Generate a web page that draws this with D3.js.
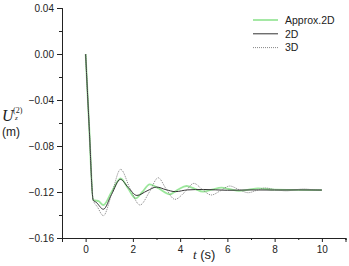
<!DOCTYPE html>
<html>
<head>
<meta charset="utf-8">
<script src="https://cdn.jsdelivr.net/npm/d3@7"></script>
<style>
  body { margin: 0; background: #fff; }
  svg { display: block; font-family: "Liberation Sans", Arial, sans-serif; }
</style>
</head>
<body>
<div id="chart"></div>
<script>
// Données (temps en s, déplacement en m)
const tApprox = [0, 0.15, 0.32, 0.45, 0.55, 0.75, 1.1, 1.48, 1.8, 2.12, 2.4, 2.71, 3.1, 3.56, 3.9, 4.27, 4.6, 4.97, 5.35, 5.75, 6.1, 6.5, 6.9, 7.3, 8, 9, 10];
const uApprox = [0, -0.063, -0.127, -0.1275, -0.128, -0.1313, -0.12, -0.1081, -0.117, -0.1255, -0.12, -0.1133, -0.117, -0.122, -0.118, -0.1148, -0.117, -0.1197, -0.118, -0.1162, -0.1175, -0.119, -0.118, -0.1168, -0.118, -0.1182, -0.1183];

const t2D = [0, 0.15, 0.32, 0.45, 0.75, 1.1, 1.47, 1.8, 2.17, 2.6, 3.0, 3.4, 3.8, 4.3, 5, 6, 7, 8, 9, 10];
const u2D = [0, -0.063, -0.127, -0.129, -0.135, -0.122, -0.109, -0.116, -0.123, -0.119, -0.1157, -0.118, -0.1197, -0.1182, -0.1178, -0.1185, -0.1182, -0.1183, -0.1182, -0.1183];

const t3D = [0, 0.15, 0.32, 0.5, 0.75, 1.1, 1.48, 1.9, 2.3, 2.7, 3.07, 3.4, 3.78, 4.2, 4.58, 4.95, 5.32, 5.7, 6.1, 6.5, 6.88, 7.25, 7.6, 8.05, 8.5, 8.9, 9.25, 9.6, 10];
const u3D = [0, -0.063, -0.127, -0.133, -0.1406, -0.122, -0.1003, -0.118, -0.1313, -0.12, -0.1076, -0.117, -0.1264, -0.12, -0.1125, -0.118, -0.1226, -0.119, -0.1148, -0.118, -0.1206, -0.1185, -0.1165, -0.118, -0.119, -0.118, -0.1174, -0.118, -0.1183];

const xTicks = [0, 2, 4, 6, 8, 10];
const yTicks = [0.04, 0.00, -0.04, -0.08, -0.12, -0.16];
const legendLabels = ["Approx.2D", "2D", "3D"];

const width = 349, height = 266;
const svg = d3.select("#chart").append("svg")
    .attr("width", width)
    .attr("height", height);

// Échelles
const x = d3.scaleLinear().domain([-1, 11]).range([62, 345.5]);
const y = d3.scaleLinear().domain([-0.16, 0.04]).range([238, 8]);

// Axes
const yAxis = svg.append("g")
    .attr("transform", "translate(62,0)")
    .call(d3.axisLeft(y).tickValues(yTicks).tickFormat(d3.format(".2f")).tickSize(5).tickPadding(3));
yAxis.append("g").call(d3.axisLeft(y).tickValues(d3.range(-0.14, 0.04, 0.04)).tickSize(3).tickFormat(""));

const xAxis = svg.append("g")
    .attr("transform", "translate(0,238)")
    .call(d3.axisBottom(x).tickValues(xTicks).tickFormat(d3.format("d")).tickSize(4).tickPadding(4));
xAxis.append("g").call(d3.axisBottom(x).tickValues([1, 3, 5, 7, 9, 11]).tickSize(2).tickFormat(""));

svg.selectAll(".domain").attr("stroke", "#222");
svg.selectAll(".tick line").attr("stroke", "#222");
svg.selectAll(".tick text").attr("fill", "#222").style("font-size", "10px").style("font-family", "Liberation Sans, Arial, sans-serif");
// retirer le chemin doublé des sous-axes
yAxis.select("g").select(".domain").remove();
xAxis.select("g").select(".domain").remove();

// Titres des axes
const yl = svg.append("text").attr("x", 2).attr("y", 121)
    .style("font-family", "Liberation Serif, Times New Roman, serif").attr("fill", "#222");
yl.append("tspan").text("U").style("font-style", "italic").style("font-size", "16px");
svg.append("text").attr("x", 13).attr("y", 113).text("(2)")
    .style("font-family", "Liberation Serif, serif").style("font-size", "8px").attr("fill", "#222");
svg.append("text").attr("x", 15).attr("y", 120).text("z")
    .style("font-family", "Liberation Serif, serif").style("font-style", "italic").style("font-size", "7px").attr("fill", "#222");
svg.append("text").attr("x", 2).attr("y", 136).text("(m)")
    .style("font-size", "12px").attr("fill", "#222");

const xl = svg.append("text").attr("x", 193).attr("y", 259).attr("fill", "#222").style("font-size", "13px");
xl.append("tspan").text("t").style("font-style", "italic").style("font-family", "Liberation Serif, serif");
xl.append("tspan").text(" (s)");

// Courbes
const series = [
    { t: tApprox, u: uApprox, color: "#9be69b", width: 1.8, dash: null },
    { t: t2D, u: u2D, color: "#333", width: 1, dash: null },
    { t: t3D, u: u3D, color: "#666", width: 0.8, dash: "1,1" }
];

const line = d3.line()
    .x(d => x(d[0]))
    .y(d => y(d[1]))
    .curve(d3.curveMonotoneX);

series.forEach(s => {
    svg.append("path")
        .datum(s.t.map((t, i) => [t, s.u[i]]))
        .attr("fill", "none")
        .attr("stroke", s.color)
        .attr("stroke-width", s.width)
        .attr("stroke-dasharray", s.dash)
        .attr("d", line);
});

// Légende
const legend = svg.append("g").attr("transform", "translate(253,20)");
legendLabels.forEach((lab, i) => {
    const g = legend.append("g").attr("transform", `translate(0,${i * 13.8})`);
    g.append("line").attr("x1", 0).attr("x2", 25).attr("y1", 0).attr("y2", 0)
        .attr("stroke", series[i].color)
        .attr("stroke-width", series[i].width)
        .attr("stroke-dasharray", series[i].dash);
    g.append("text").attr("x", 32).attr("y", 3.8).text(lab)
        .style("font-size", "10.5px").attr("fill", "#222");
});
</script>
</body>
</html>
